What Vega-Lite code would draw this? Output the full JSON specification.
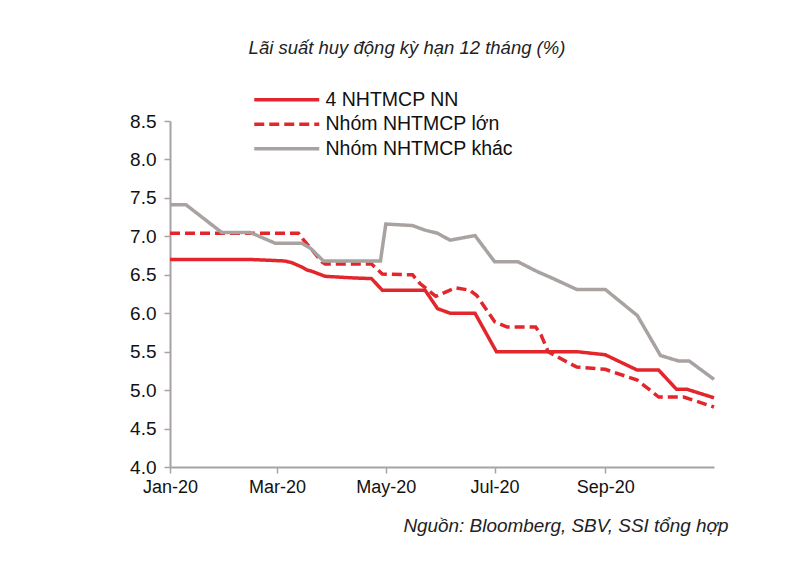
{
  "$schema": "https://vega.github.io/schema/vega-lite/v6.json",
  "width": 544,
  "height": 346,
  "autosize": {"type": "none"},
  "padding": {"left": 170, "top": 121, "right": 86, "bottom": 98},
  "background": "white",
  "config": {
    "view": {"stroke": null},
    "font": "Liberation Sans"
  },
  "title": {
    "text": "Lãi suất huy động kỳ hạn 12 tháng (%)",
    "font": "Liberation Sans",
    "fontSize": 18.5,
    "fontStyle": "italic",
    "fontWeight": "normal",
    "color": "#222222",
    "anchor": "middle",
    "frame": "group",
    "dx": -35,
    "offset": 33
  },
  "data": {
    "values": [
      {"date": "2020-01-01", "series": "4 NHTMCP NN", "value": 6.70},
      {"date": "2020-02-14", "series": "4 NHTMCP NN", "value": 6.70},
      {"date": "2020-03-05", "series": "4 NHTMCP NN", "value": 6.68},
      {"date": "2020-03-09", "series": "4 NHTMCP NN", "value": 6.66},
      {"date": "2020-03-15", "series": "4 NHTMCP NN", "value": 6.60},
      {"date": "2020-03-18", "series": "4 NHTMCP NN", "value": 6.56},
      {"date": "2020-03-20", "series": "4 NHTMCP NN", "value": 6.55},
      {"date": "2020-03-28", "series": "4 NHTMCP NN", "value": 6.48},
      {"date": "2020-04-12", "series": "4 NHTMCP NN", "value": 6.46},
      {"date": "2020-04-23", "series": "4 NHTMCP NN", "value": 6.45},
      {"date": "2020-04-29", "series": "4 NHTMCP NN", "value": 6.30},
      {"date": "2020-05-23", "series": "4 NHTMCP NN", "value": 6.30},
      {"date": "2020-05-30", "series": "4 NHTMCP NN", "value": 6.06},
      {"date": "2020-06-06", "series": "4 NHTMCP NN", "value": 6.00},
      {"date": "2020-06-20", "series": "4 NHTMCP NN", "value": 6.00},
      {"date": "2020-07-02", "series": "4 NHTMCP NN", "value": 5.50},
      {"date": "2020-08-16", "series": "4 NHTMCP NN", "value": 5.50},
      {"date": "2020-09-01", "series": "4 NHTMCP NN", "value": 5.46},
      {"date": "2020-09-19", "series": "4 NHTMCP NN", "value": 5.26},
      {"date": "2020-10-01", "series": "4 NHTMCP NN", "value": 5.26},
      {"date": "2020-10-11", "series": "4 NHTMCP NN", "value": 5.01},
      {"date": "2020-10-17", "series": "4 NHTMCP NN", "value": 5.01},
      {"date": "2020-11-01", "series": "4 NHTMCP NN", "value": 4.90},

      {"date": "2020-01-01", "series": "Nhóm NHTMCP lớn", "value": 7.04},
      {"date": "2020-03-13", "series": "Nhóm NHTMCP lớn", "value": 7.04},
      {"date": "2020-03-16", "series": "Nhóm NHTMCP lớn", "value": 6.95},
      {"date": "2020-03-20", "series": "Nhóm NHTMCP lớn", "value": 6.84},
      {"date": "2020-03-26", "series": "Nhóm NHTMCP lớn", "value": 6.67},
      {"date": "2020-03-28", "series": "Nhóm NHTMCP lớn", "value": 6.64},
      {"date": "2020-04-23", "series": "Nhóm NHTMCP lớn", "value": 6.64},
      {"date": "2020-04-29", "series": "Nhóm NHTMCP lớn", "value": 6.51},
      {"date": "2020-05-16", "series": "Nhóm NHTMCP lớn", "value": 6.50},
      {"date": "2020-05-20", "series": "Nhóm NHTMCP lớn", "value": 6.39},
      {"date": "2020-05-29", "series": "Nhóm NHTMCP lớn", "value": 6.22},
      {"date": "2020-06-09", "series": "Nhóm NHTMCP lớn", "value": 6.33},
      {"date": "2020-06-17", "series": "Nhóm NHTMCP lớn", "value": 6.30},
      {"date": "2020-06-21", "series": "Nhóm NHTMCP lớn", "value": 6.23},
      {"date": "2020-07-01", "series": "Nhóm NHTMCP lớn", "value": 5.89},
      {"date": "2020-07-08", "series": "Nhóm NHTMCP lớn", "value": 5.82},
      {"date": "2020-07-24", "series": "Nhóm NHTMCP lớn", "value": 5.82},
      {"date": "2020-07-27", "series": "Nhóm NHTMCP lớn", "value": 5.72},
      {"date": "2020-07-31", "series": "Nhóm NHTMCP lớn", "value": 5.50},
      {"date": "2020-08-07", "series": "Nhóm NHTMCP lớn", "value": 5.41},
      {"date": "2020-08-16", "series": "Nhóm NHTMCP lớn", "value": 5.30},
      {"date": "2020-09-01", "series": "Nhóm NHTMCP lớn", "value": 5.27},
      {"date": "2020-09-19", "series": "Nhóm NHTMCP lớn", "value": 5.13},
      {"date": "2020-10-01", "series": "Nhóm NHTMCP lớn", "value": 4.91},
      {"date": "2020-10-15", "series": "Nhóm NHTMCP lớn", "value": 4.91},
      {"date": "2020-11-01", "series": "Nhóm NHTMCP lớn", "value": 4.78},

      {"date": "2020-01-01", "series": "Nhóm NHTMCP khác", "value": 7.41},
      {"date": "2020-01-10", "series": "Nhóm NHTMCP khác", "value": 7.41},
      {"date": "2020-01-30", "series": "Nhóm NHTMCP khác", "value": 7.05},
      {"date": "2020-02-15", "series": "Nhóm NHTMCP khác", "value": 7.05},
      {"date": "2020-02-29", "series": "Nhóm NHTMCP khác", "value": 6.91},
      {"date": "2020-03-15", "series": "Nhóm NHTMCP khác", "value": 6.91},
      {"date": "2020-03-20", "series": "Nhóm NHTMCP khác", "value": 6.84},
      {"date": "2020-03-27", "series": "Nhóm NHTMCP khác", "value": 6.68},
      {"date": "2020-04-28", "series": "Nhóm NHTMCP khác", "value": 6.68},
      {"date": "2020-05-01", "series": "Nhóm NHTMCP khác", "value": 7.16},
      {"date": "2020-05-16", "series": "Nhóm NHTMCP khác", "value": 7.14},
      {"date": "2020-05-23", "series": "Nhóm NHTMCP khác", "value": 7.08},
      {"date": "2020-05-30", "series": "Nhóm NHTMCP khác", "value": 7.04},
      {"date": "2020-06-06", "series": "Nhóm NHTMCP khác", "value": 6.95},
      {"date": "2020-06-20", "series": "Nhóm NHTMCP khác", "value": 7.01},
      {"date": "2020-07-01", "series": "Nhóm NHTMCP khác", "value": 6.67},
      {"date": "2020-07-14", "series": "Nhóm NHTMCP khác", "value": 6.67},
      {"date": "2020-07-25", "series": "Nhóm NHTMCP khác", "value": 6.54},
      {"date": "2020-08-01", "series": "Nhóm NHTMCP khác", "value": 6.47},
      {"date": "2020-08-16", "series": "Nhóm NHTMCP khác", "value": 6.31},
      {"date": "2020-09-01", "series": "Nhóm NHTMCP khác", "value": 6.31},
      {"date": "2020-09-19", "series": "Nhóm NHTMCP khác", "value": 5.97},
      {"date": "2020-10-02", "series": "Nhóm NHTMCP khác", "value": 5.45},
      {"date": "2020-10-12", "series": "Nhóm NHTMCP khác", "value": 5.38},
      {"date": "2020-10-18", "series": "Nhóm NHTMCP khác", "value": 5.38},
      {"date": "2020-11-01", "series": "Nhóm NHTMCP khác", "value": 5.14}
    ]
  },
  "mark": {"type": "line", "strokeWidth": 3.5, "strokeJoin": "miter", "strokeCap": "butt"},
  "encoding": {
    "x": {
      "field": "date",
      "type": "temporal",
      "scale": {
        "type": "utc",
        "domain": [
          {"year": 2020, "month": 1, "date": 1, "utc": true},
          {"year": 2020, "month": 11, "date": 1, "utc": true}
        ]
      },
      "axis": {
        "values": [
          {"year": 2020, "month": 1, "date": 1, "utc": true},
          {"year": 2020, "month": 3, "date": 1, "utc": true},
          {"year": 2020, "month": 5, "date": 1, "utc": true},
          {"year": 2020, "month": 7, "date": 1, "utc": true},
          {"year": 2020, "month": 9, "date": 1, "utc": true}
        ],
        "labelExpr": "utcFormat(datum.value, '%b-%y')",
        "grid": false,
        "domainColor": "#a8a3a0",
        "domainWidth": 2,
        "tickColor": "#a8a3a0",
        "tickWidth": 1.5,
        "tickSize": 6,
        "labelFont": "Liberation Sans",
        "labelFontSize": 18,
        "labelColor": "#111111",
        "labelPadding": 5,
        "labelFlush": false,
        "title": "Nguồn:  Bloomberg, SBV, SSI tổng hợp",
        "titleFont": "Liberation Sans",
        "titleFontSize": 18.9,
        "titleFontStyle": "italic",
        "titleFontWeight": "normal",
        "titleColor": "#222222",
        "titleAnchor": "end",
        "titleAlign": "right",
        "titleBaseline": "alphabetic",
        "titleX": 558,
        "titleY": 64
      }
    },
    "y": {
      "field": "value",
      "type": "quantitative",
      "scale": {"domain": [4, 8.5], "zero": false, "nice": false},
      "axis": {
        "values": [4, 4.5, 5, 5.5, 6, 6.5, 7, 7.5, 8, 8.5],
        "format": ".1f",
        "grid": false,
        "domainColor": "#a8a3a0",
        "domainWidth": 2,
        "tickColor": "#a8a3a0",
        "tickWidth": 1.5,
        "tickSize": 6,
        "labelFont": "Liberation Sans",
        "labelFontSize": 19,
        "labelColor": "#111111",
        "labelPadding": 8,
        "title": null
      }
    },
    "color": {
      "field": "series",
      "type": "nominal",
      "scale": {
        "domain": ["4 NHTMCP NN", "Nhóm NHTMCP lớn", "Nhóm NHTMCP khác"],
        "range": ["#e3262b", "#e3262b", "#a8a3a0"]
      },
      "legend": {
        "title": null,
        "orient": "none",
        "legendX": 107,
        "legendY": -31,
        "symbolType": "M-6.5,0L6.5,0",
        "symbolSize": 100,
        "symbolStrokeWidth": 3.5,
        "labelFont": "Liberation Sans",
        "labelFontSize": 19.5,
        "labelColor": "#111111",
        "labelLimit": 0,
        "labelOffset": 29,
        "rowPadding": 3.5,
        "padding": 0
      }
    },
    "strokeDash": {
      "field": "series",
      "type": "nominal",
      "scale": {
        "domain": ["4 NHTMCP NN", "Nhóm NHTMCP lớn", "Nhóm NHTMCP khác"],
        "range": [[1, 0], [10, 5], [1, 0]]
      },
      "legend": null
    }
  }
}
